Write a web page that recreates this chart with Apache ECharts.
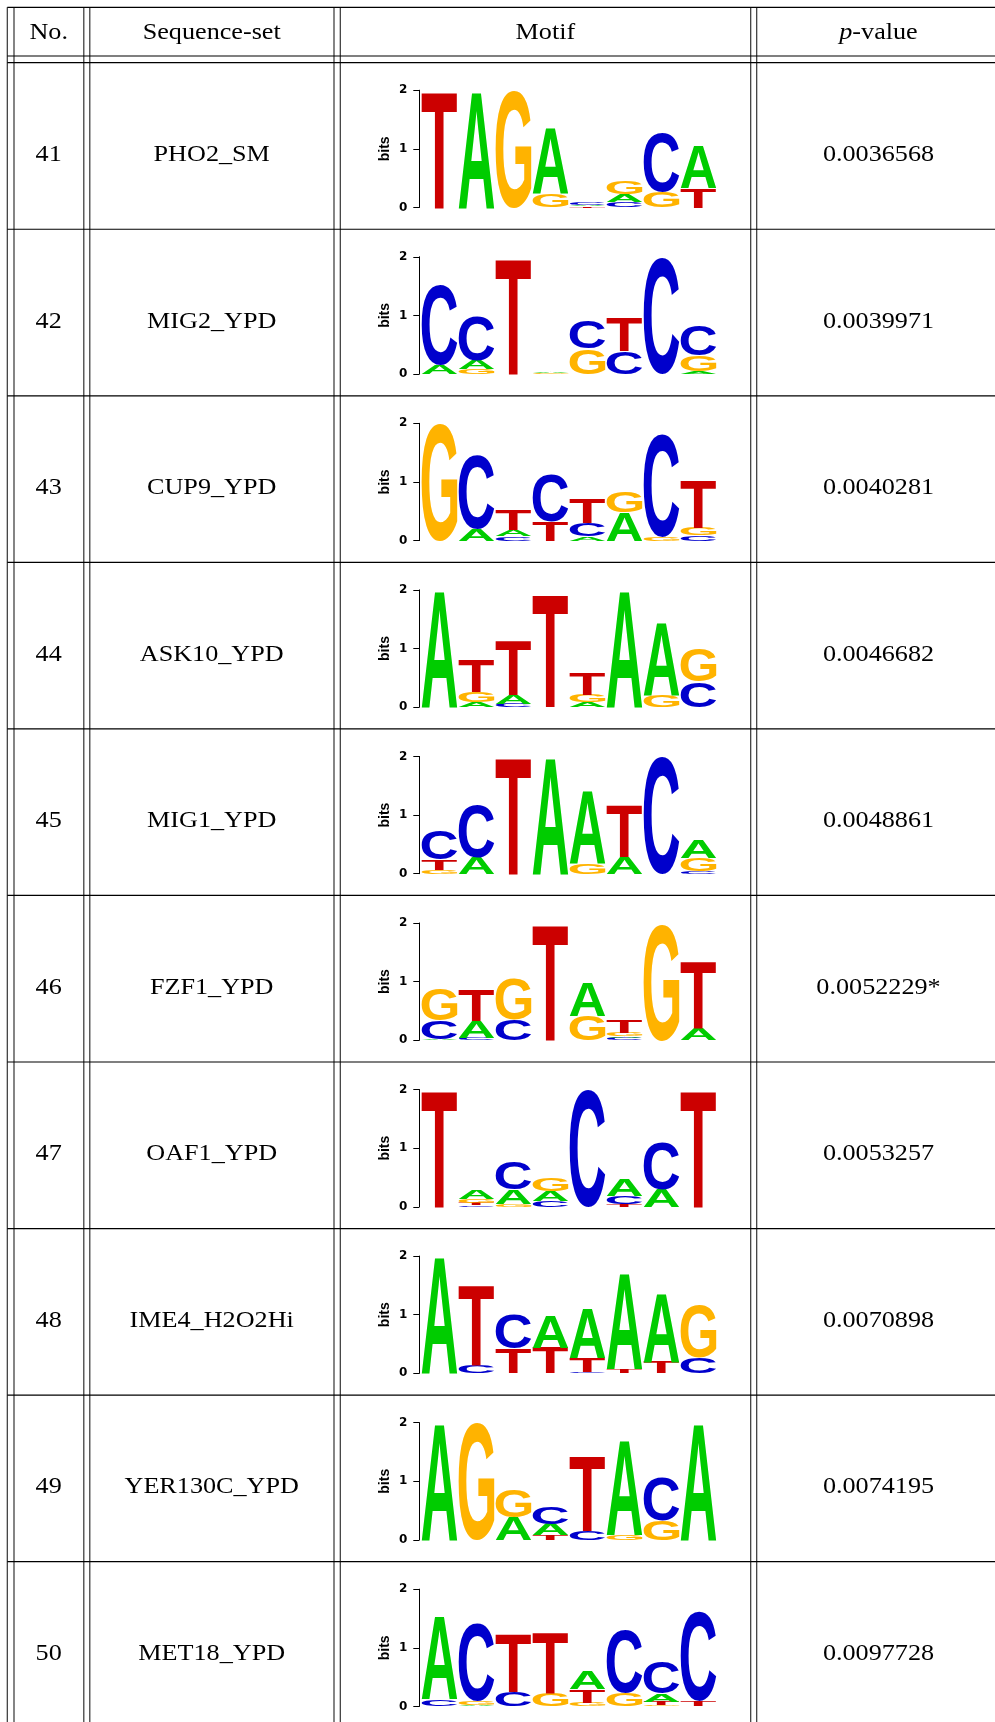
<!DOCTYPE html>
<html><head><meta charset="utf-8">
<script src="https://cdn.jsdelivr.net/npm/echarts@6/dist/echarts.min.js"></script>
<style>html,body{margin:0;padding:0;background:#fff}#c{width:995px;height:1722px}</style>
</head><body><div id="c"></div>
<script>
// ---------- data ----------
const rowNumbers = ['41','42','43','44','45','46','47','48','49','50'];
const sequenceSets = ['PHO2_SM','MIG2_YPD','CUP9_YPD','ASK10_YPD','MIG1_YPD','FZF1_YPD','OAF1_YPD','IME4_H2O2Hi','YER130C_YPD','MET18_YPD'];
const pValues = ['0.0036568','0.0039971','0.0040281','0.0046682','0.0048861','0.0052229*','0.0053257','0.0070898','0.0074195','0.0097728'];
const headers = ['No.','Sequence-set','Motif','p-value'];
const bitTicks = [0,1,2];
// each logo: 8 positions, letters stacked bottom -> top as [letter, bits]
const logo41 = [[['T',1.99]],[['A',1.99]],[['G',1.99]],[['G',0.23],['A',1.13]],[['T',0.02],['A',0.03],['C',0.04]],[['C',0.09],['A',0.14],['G',0.22]],[['G',0.27],['C',1.0]],[['T',0.34],['A',0.73]]];
const logo42 = [[['A',0.15],['C',1.37]],[['G',0.08],['A',0.15],['C',0.77]],[['T',1.98]],[['G',0.01],['A',0.02]],[['G',0.43],['C',0.46]],[['C',0.39],['T',0.58]],[['C',1.98]],[['A',0.05],['G',0.26],['C',0.51]]];
const logo43 = [[['G',1.99]],[['A',0.2],['C',1.25]],[['C',0.07],['A',0.11],['T',0.35]],[['T',0.33],['C',0.80]],[['A',0.07],['C',0.23],['T',0.41]],[['A',0.48],['G',0.36]],[['G',0.06],['C',1.75]],[['C',0.09],['G',0.13],['T',0.81]]];
const logo44 = [[['A',1.99]],[['A',0.085],['G',0.17],['T',0.55]],[['C',0.06],['A',0.15],['T',0.92]],[['T',1.92]],[['A',0.085],['G',0.13],['T',0.37]],[['A',1.99]],[['G',0.2],['A',1.25]],[['C',0.43],['G',0.57]]];
const logo45 = [[['G',0.07],['T',0.18],['C',0.5]],[['A',0.28],['C',0.89]],[['T',1.99]],[['A',1.99]],[['G',0.18],['A',1.25]],[['A',0.28],['T',0.89]],[['C',1.99]],[['C',0.04],['G',0.22],['A',0.31]]];
const logo46 = [[['A',0.02],['C',0.31],['G',0.53]],[['C',0.04],['A',0.28],['T',0.53]],[['C',0.35],['G',0.70]],[['T',1.98]],[['G',0.42],['A',0.57]],[['C',0.04],['A',0.03],['G',0.06],['T',0.22]],[['G',1.98]],[['A',0.2],['T',1.16]]];
const logo47 = [[['T',1.99]],[['C',0.03],['T',0.04],['G',0.07],['A',0.16]],[['G',0.05],['A',0.25],['C',0.48]],[['C',0.1],['A',0.17],['G',0.23]],[['C',1.99]],[['T',0.04],['C',0.14],['A',0.29]],[['A',0.3],['C',0.81]],[['T',1.99]]];
const logo48 = [[['A',1.99]],[['C',0.14],['T',1.38]],[['T',0.42],['C',0.58]],[['T',0.44],['A',0.55]],[['C',0.02],['T',0.24],['A',0.84]],[['T',0.07],['A',1.63]],[['T',0.2],['A',1.18]],[['C',0.27],['G',0.9]]];
const logo49 = [[['A',1.99]],[['G',1.99]],[['A',0.39],['G',0.47]],[['T',0.085],['A',0.19],['C',0.3]],[['C',0.16],['T',1.28]],[['G',0.085],['A',1.61]],[['G',0.33],['C',0.75]],[['A',1.99]]];
const logo50 = [[['C',0.12],['A',1.42]],[['A',0.02],['G',0.07],['C',1.33]],[['C',0.25],['T',1.0]],[['G',0.23],['T',1.03]],[['G',0.06],['T',0.23],['A',0.31]],[['G',0.23],['C',1.07]],[['G',0.02],['T',0.06],['A',0.14],['C',0.53]],[['T',0.085],['C',1.53]]];
const logos = [logo41,logo42,logo43,logo44,logo45,logo46,logo47,logo48,logo49,logo50];

// ---------- style / layout ----------
const LETTERS = ['A','C','G','T'];
const LETTER_COLORS = {A:'#00CC00', C:'#0000CC', G:'#FFB300', T:'#CC0000'};
const LFONT = 'bold 100px "Liberation Sans"';
const SERIF = '"Liberation Serif", "DejaVu Serif", serif';
const FS = 24, SX = 1.09;
const ROW0 = 62.7, ROWH = 166.55;
const COLX = {no:48.7, seq:211.7, motif:545.4, p:878.5};

// glyph metrics
const mctx = document.createElement('canvas').getContext('2d');
mctx.font = LFONT; mctx.textBaseline = 'middle'; mctx.textAlign = 'left';
const metrics = {};
LETTERS.forEach(L => {
  const m = mctx.measureText(L);
  let left = m.actualBoundingBoxLeft, right = m.actualBoundingBoxRight,
      asc = m.actualBoundingBoxAscent, desc = m.actualBoundingBoxDescent;
  if (!(right > 0)) { left = 0; right = 70; asc = 36; desc = 36; }
  metrics[L] = {left, asc, w: left + right, h: asc + desc};
});

const grids = [], xAxes = [], yAxes = [], series = [];
logos.forEach((logo, i) => {
  const top = ROW0 + ROWH * i;
  grids.push({left: 421, width: 296, top: top + 27.5, height: 117.3});
  xAxes.push({gridIndex: i, type: 'value', min: 0.5, max: 8.5, show: false});
  yAxes.push({
    gridIndex: i, type: 'value', min: bitTicks[0], max: bitTicks[2], interval: 1, offset: 1.7,
    axisLine: {show: true, lineStyle: {color: '#000', width: 1}},
    axisTick: {show: true, length: 6, lineStyle: {color: '#000', width: 1}},
    axisLabel: {margin: 12, fontFamily: 'DejaVu Sans', fontWeight: 'bold', fontSize: 12, color: '#000'},
    splitLine: {show: false},
    name: 'bits', nameLocation: 'middle', nameRotate: 90, nameGap: 27,
    nameTextStyle: {fontFamily: 'Liberation Sans', fontWeight: 'bold', fontSize: 14, color: '#000'}
  });
  const data = [];
  logo.forEach((stack, p) => {
    let base = 0;
    stack.forEach(([L, h]) => {
      data.push([p + 1, base, base + h, LETTERS.indexOf(L)]);
      base += h;
    });
  });
  series.push({
    type: 'custom', xAxisIndex: i, yAxisIndex: i, clip: false, silent: true, animation: false,
    data,
    renderItem: (params, api) => {
      const pos = api.value(0), b = api.value(1), t = api.value(2);
      const L = LETTERS[api.value(3)];
      const p0 = api.coord([pos - 0.5, b]);
      const p1 = api.coord([pos + 0.5, t]);
      const x0 = p0[0] + 0.6, x1 = p1[0] - 0.6;
      const yb = p0[1], yt = p1[1];
      const m = metrics[L];
      const h = yb - yt;
      if (h < 0.3) return null;
      return {
        type: 'text', x: x0, y: yt,
        scaleX: (x1 - x0) / m.w, scaleY: h / m.h,
        style: {text: L, x: m.left, y: m.asc, font: LFONT, fill: LETTER_COLORS[L], align: 'left', verticalAlign: 'middle'}
      };
    }
  });
});

// ---------- table graphics ----------
const els = [];
const vlines = [7.3, 14, 83.8, 89.8, 334, 340.3, 750.7, 756.7];
vlines.forEach(x => els.push({type: 'line', shape: {x1: x, y1: 7.3, x2: x, y2: 1722}, style: {stroke: '#333', lineWidth: 1.2}, silent: true}));
const hlines = [7.3, 56, 62.7];
for (let k = 1; k <= 9; k++) hlines.push(ROW0 + ROWH * k);
hlines.forEach(y => els.push({type: 'line', shape: {x1: 7.3, y1: y, x2: 995, y2: y}, style: {stroke: '#000', lineWidth: 1.2}, silent: true}));

function cellText(x, y, txt) {
  return {type: 'text', x, y, scaleX: SX, silent: true,
    style: {text: txt, font: FS + 'px ' + SERIF, fill: '#000', align: 'center', verticalAlign: 'middle',
      rich: {i: {fontStyle: 'italic', fontSize: FS, fontFamily: SERIF, fill: '#000'}}}};
}
const headX = [COLX.no, COLX.seq, COLX.motif, COLX.p];
headers.forEach((h, j) => els.push(cellText(headX[j], 33, h === 'p-value' ? '{i|p}-value' : h)));
rowNumbers.forEach((n, i) => {
  const y = ROW0 + ROWH * i + 92;
  els.push(cellText(COLX.no, y, n));
  els.push(cellText(COLX.seq, y, sequenceSets[i]));
  els.push(cellText(COLX.p, y, pValues[i]));
});

const chart = echarts.init(document.getElementById('c'), null, {renderer: 'canvas'});
chart.setOption({
  animation: false,
  backgroundColor: '#fff',
  grid: grids, xAxis: xAxes, yAxis: yAxes, series,
  graphic: {elements: els}
});
</script></body></html>
